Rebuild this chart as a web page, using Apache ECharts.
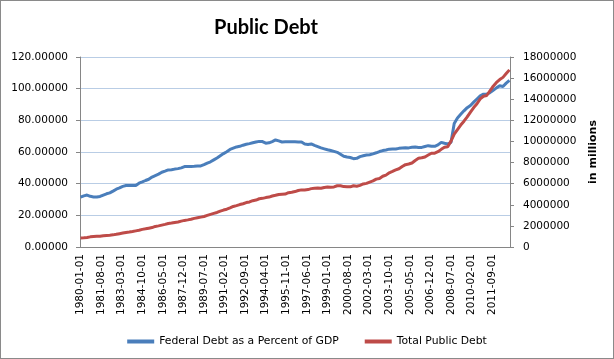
<!DOCTYPE html>
<html>
<head>
<meta charset="utf-8">
<script src="https://cdn.jsdelivr.net/npm/echarts@6/dist/echarts.min.js"></script>
<style>
html,body{margin:0;padding:0;background:#fff;}
#wrap{position:absolute;left:0;top:0;width:612px;height:357px;border:1px solid #8a8a8a;}
#chart{width:612px;height:357px;}
</style>
</head>
<body>
<div id="wrap"><div id="chart"></div></div>
<script>
// Category range (monthly), first and last month shown on the axis
const firstMonth = '1980-01';
const lastMonth = '2013-01';

// Quarterly observations (dates are the first month of each quarter)
const quarterDates = [];
for (let y = 1980; y <= 2013; y++) {
  for (const m of ['01','04','07','10']) {
    const d = y + '-' + m + '-01';
    if (d <= lastMonth + '-01') quarterDates.push(d);
  }
}

// Federal Debt as a Percent of GDP (left axis)
const debtPctGdp = [
  31.5,32.3,32.8,32.0,
  31.6,31.6,31.9,32.8,
  33.6,34.2,35.3,36.5,
  37.3,38.3,38.8,38.8,
  38.8,38.9,40.3,41.1,
  42.0,42.8,44.2,45.1,
  46.0,47.2,47.9,48.7,
  48.8,49.2,49.5,50.0,
  50.8,50.8,50.9,51.0,
  51.2,51.2,52.0,53.0,
  53.8,55.0,56.2,57.6,
  59.0,60.2,61.6,62.4,
  63.2,63.6,64.3,64.9,
  65.3,65.8,66.3,66.7,
  66.6,65.6,65.8,66.6,
  67.6,67.0,66.3,66.4,
  66.5,66.4,66.4,66.3,
  66.3,65.0,64.8,65.1,
  64.2,63.4,62.6,62.0,
  61.4,60.9,60.4,59.8,
  58.6,57.3,56.8,56.5,
  55.8,56.0,57.1,57.6,
  58.1,58.3,58.8,59.5,
  60.3,60.9,61.3,61.8,
  61.9,61.9,62.3,62.5,
  62.7,62.6,63.0,63.2,
  62.9,62.9,63.5,64.0,
  63.6,63.6,64.5,66.1,
  65.5,65.1,66.0,78.0,
  81.5,83.8,86.0,88.0,
  89.4,91.5,93.5,95.5,
  96.5,96.5,97.5,99.0,
  100.5,101.8,101.4,103.5,
  105.2
];

// Total Public Debt, in millions (right axis)
const totalDebt = [
  863000,885000,910000,960000,
  990000,1010000,1010000,1060000,
  1090000,1110000,1150000,1200000,
  1260000,1320000,1380000,1420000,
  1470000,1530000,1590000,1670000,
  1720000,1780000,1840000,1950000,
  2000000,2070000,2140000,2230000,
  2270000,2330000,2370000,2450000,
  2520000,2570000,2630000,2710000,
  2770000,2830000,2890000,2990000,
  3090000,3180000,3270000,3400000,
  3500000,3580000,3700000,3840000,
  3920000,4020000,4100000,4210000,
  4270000,4390000,4450000,4570000,
  4610000,4680000,4730000,4830000,
  4900000,4980000,5000000,5020000,
  5150000,5190000,5250000,5350000,
  5410000,5400000,5440000,5530000,
  5570000,5580000,5560000,5640000,
  5680000,5670000,5690000,5800000,
  5800000,5720000,5710000,5700000,
  5800000,5760000,5840000,5970000,
  6030000,6150000,6260000,6430000,
  6490000,6700000,6810000,7030000,
  7160000,7300000,7410000,7620000,
  7800000,7860000,7960000,8200000,
  8400000,8450000,8530000,8710000,
  8880000,8890000,9030000,9250000,
  9450000,9500000,10030000,10700000,
  11130000,11550000,11920000,12320000,
  12780000,13210000,13570000,14030000,
  14280000,14350000,14800000,15230000,
  15590000,15860000,16070000,16430000,
  16780000
];

const seriesNames = ['Federal Debt as a Percent of GDP', 'Total Public Debt'];
const titleText = 'Public Debt';
const rightAxisName = 'in millions';

// Monthly category labels
const months = [];
{
  let y = +firstMonth.slice(0,4), m = +firstMonth.slice(5,7);
  const ly = +lastMonth.slice(0,4), lm = +lastMonth.slice(5,7);
  while (y < ly || (y === ly && m <= lm)) {
    months.push(y + '-' + String(m).padStart(2,'0') + '-01');
    m++; if (m > 12) { m = 1; y++; }
  }
}

const tickFont = 'DejaVu Sans, Verdana, sans-serif';
const axisGray = '#868686';

const chart = echarts.init(document.getElementById('chart'), null, {renderer:'canvas'});
chart.setOption({
  animation: false,
  backgroundColor: '#fff',
  title: {
    text: titleText,
    left: 260, top: 12, textAlign: 'center',
    textStyle: {fontFamily: 'Lato, sans-serif', fontWeight: 'bold', fontSize: 20, color: '#000'}
  },
  legend: {
    data: seriesNames,
    left: 'center', top: 330,
    icon: 'rect', itemWidth: 27, itemHeight: 4, itemGap: 26,
    textStyle: {fontFamily: tickFont, fontSize: 10.8, color: '#000'}
  },
  grid: {left: 79, right: 103, top: 56, bottom: 111, containLabel: false},
  xAxis: {
    type: 'category',
    data: months,
    boundaryGap: true,
    axisLine: {lineStyle: {color: axisGray, width: 1}},
    axisTick: {interval: 18, length: 5, lineStyle: {color: axisGray}},
    axisLabel: {interval: 18, rotate: 90, margin: 7, fontFamily: tickFont, fontSize: 10.5, color: '#000'},
    splitLine: {show: false}
  },
  yAxis: [
    {
      type: 'value', min: 0, max: 120, interval: 20, position: 'left',
      axisLine: {show: true, lineStyle: {color: axisGray}},
      axisTick: {show: true, length: 4, lineStyle: {color: axisGray}},
      axisLabel: {margin: 12, fontFamily: tickFont, fontSize: 10.5, color: '#000',
        formatter: v => v.toFixed(5)},
      splitLine: {show: true, lineStyle: {color: '#b9cde5', width: 1}}
    },
    {
      type: 'value', min: 0, max: 18000000, interval: 2000000, position: 'right',
      axisLine: {show: true, lineStyle: {color: axisGray}},
      axisTick: {show: true, length: 4, lineStyle: {color: axisGray}},
      axisLabel: {margin: 13, fontFamily: tickFont, fontSize: 10.5, color: '#000',
        formatter: v => String(v)},
      splitLine: {show: false},
      name: rightAxisName, nameLocation: 'middle', nameRotate: 90, nameGap: 64,
      nameTextStyle: {fontFamily: tickFont, fontWeight: 'bold', fontSize: 11, color: '#000'}
    }
  ],
  series: [
    {
      name: seriesNames[0], type: 'line', yAxisIndex: 0,
      data: quarterDates.map((d,i) => [d, debtPctGdp[i]]),
      showSymbol: false, symbol: 'none',
      lineStyle: {color: '#4a7ebb', width: 3}, itemStyle: {color: '#4a7ebb'}
    },
    {
      name: seriesNames[1], type: 'line', yAxisIndex: 1,
      data: quarterDates.map((d,i) => [d, totalDebt[i]]),
      showSymbol: false, symbol: 'none',
      lineStyle: {color: '#be4b48', width: 3}, itemStyle: {color: '#be4b48'}
    }
  ]
});
</script>
</body>
</html>
